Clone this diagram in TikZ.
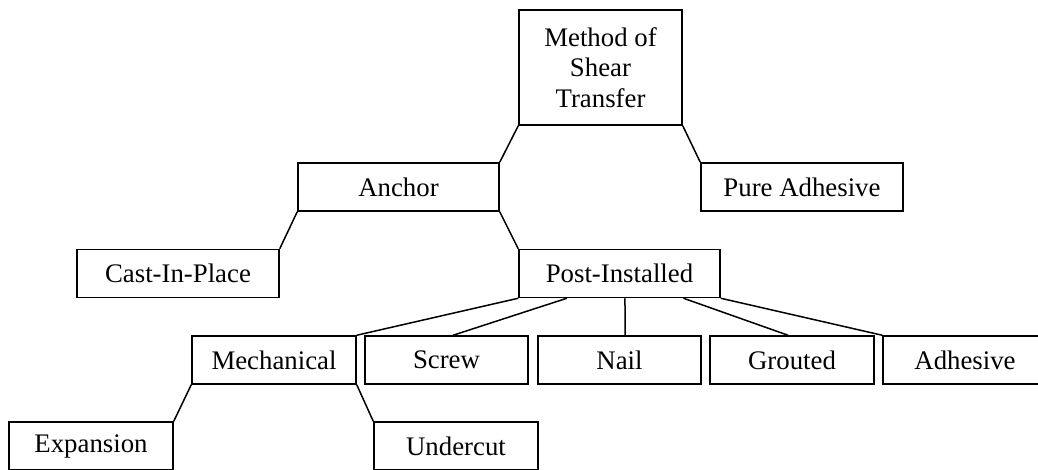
\documentclass[tikz,border=0pt]{standalone}
\usepackage{fontspec}
\setmainfont{Liberation Serif}
\usetikzlibrary{positioning,calc}

\begin{document}
\begin{tikzpicture}[
    x=0.5pt, y=-0.5pt,
    box/.style={rectangle, draw, line width=0.75pt, inner sep=0pt, align=center,
        font=\fontsize{13.4pt}{15.25pt}\selectfont, minimum height=24pt},
    line/.style={line width=0.75pt}
]

% Frame (the reference is cut at its lower and right edges)
\useasboundingbox (0,0) rectangle (1038,470);
\clip (0,0) rectangle (1038,470);

% Root
\node[box, minimum width=81.5pt, minimum height=57.5pt] (method) at (600.5,67.5) {Method of\\Shear\\Transfer};

% Second level
\node[box, minimum width=100.5pt] (anchor) at (398.5,187) {Anchor};
\node[box, minimum width=101pt] (pure) at (802,187) {Pure Adhesive};

% Third level
\node[box, minimum width=101pt] (cast) at (178,273.5) {Cast-In-Place};
\node[box, minimum width=100.5pt] (post) at (619.5,273.5) {Post-Installed};

% Post-Installed types
\node[box, minimum width=82pt] (mech) at (274,360) {Mechanical};
\node[box, minimum width=81.5pt] (screw) at (446.5,360) {Screw};
\node[box, minimum width=81.5pt] (nail) at (619.5,360) {Nail};
\node[box, minimum width=82pt] (grouted) at (792,360) {Grouted};
\node[box, minimum width=82pt] (adhesive) at (965,360) {Adhesive};

% Mechanical types
\node[box, minimum width=82pt] (expansion) at (91,446) {Expansion};
\node[box, minimum width=82pt] (undercut) at (456,446) {Undercut};

% Connectors
\draw[line] (method.south west) -- (anchor.north east);
\draw[line] (method.south east) -- (pure.north west);
\draw[line] (anchor.south west) -- (cast.north east);
\draw[line] (anchor.south east) -- (post.north west);
\draw[line] (post.south west) -- (mech.north east);
\draw[line] ($(post.south west)!0.24!(post.south east)$) -- ($(screw.north west)!0.54!(screw.north east)$);
\draw[line] ($(post.south west)!0.527!(post.south east)$) -- ($(nail.north west)!0.534!(nail.north east)$);
\draw[line] ($(post.south west)!0.816!(post.south east)$) -- ($(grouted.north west)!0.476!(grouted.north east)$);
\draw[line] (post.south east) -- (adhesive.north west);
\draw[line] (mech.south west) -- (expansion.north east);
\draw[line] (mech.south east) -- (undercut.north west);

\end{tikzpicture}
\end{document}
